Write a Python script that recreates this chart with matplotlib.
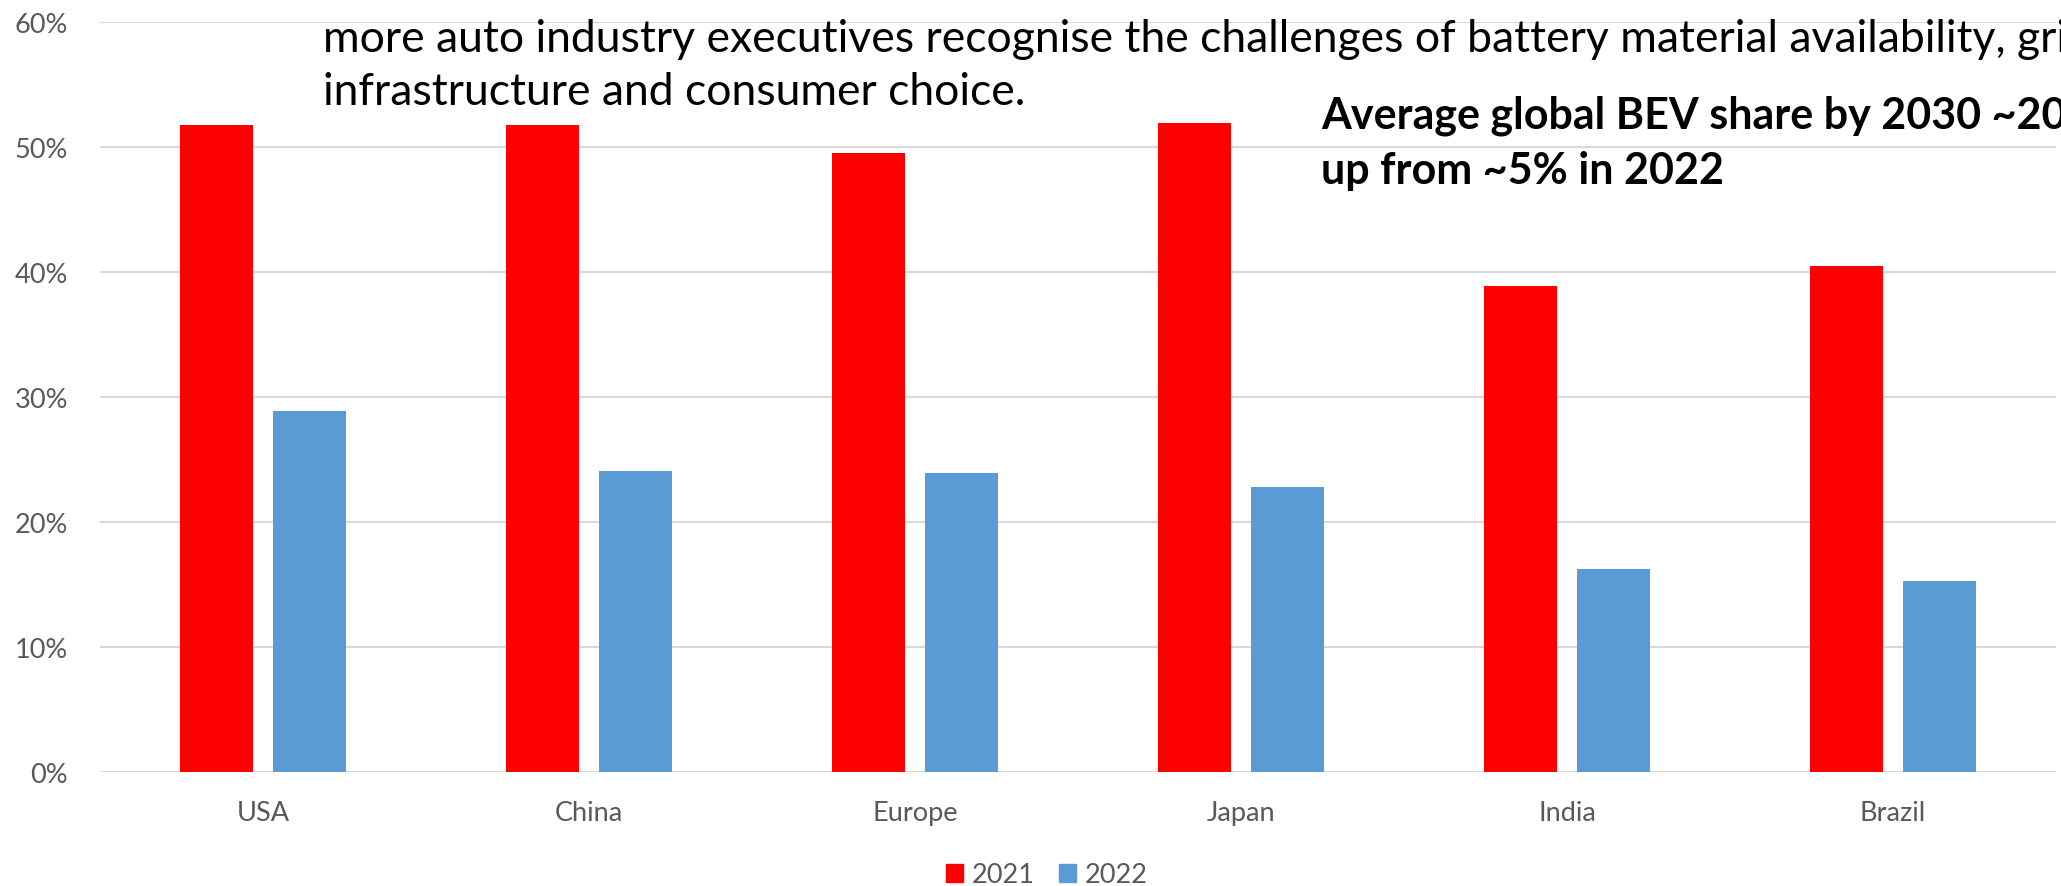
import numpy as np
import matplotlib
matplotlib.use("Agg")
import matplotlib.pyplot as plt
from matplotlib.patches import Patch

# BEV share expectations by market, survey years 2021 and 2022
countries = ["USA", "China", "Europe", "Japan", "India", "Brazil"]
share_2021 = [51.8, 51.8, 49.5, 51.9, 38.9, 40.5]
share_2022 = [28.85, 24.05, 23.95, 22.8, 16.25, 15.3]
y_ticks = [0, 10, 20, 30, 40, 50, 60]

red = "#FF0000"
blue = "#5B9BD5"
grey_text = "#595959"
grid_col = "#D9D9D9"

plt.rcParams["font.family"] = ["Lato", "DejaVu Sans"]

W, H = 2061, 887
fig = plt.figure(figsize=(W / 100, H / 100), dpi=100)
ax = fig.add_axes([100 / W, 1 - 773 / H, 1956 / W, 750 / H])

x = np.arange(len(countries))
bw = 0.224
off = 0.1426
ax.bar(x - off, share_2021, width=bw, color=red, zorder=3, label="2021")
ax.bar(x + off, share_2022, width=bw, color=blue, zorder=3, label="2022")

ax.set_xlim(-0.5, len(countries) - 0.5)
ax.set_ylim(0, 60)
ax.set_yticks(y_ticks)
ax.set_yticklabels([f"{t}%" for t in y_ticks])
ax.set_xticks(x)
ax.set_xticklabels(countries)
ax.tick_params(axis="y", length=0, pad=23, labelsize=19.5, labelcolor=grey_text)
ax.tick_params(axis="x", length=0, pad=20, labelsize=19.5, labelcolor=grey_text)
ax.yaxis.grid(True, color=grid_col, linewidth=1.5, zorder=0)
ax.set_axisbelow(True)
for s in ax.spines.values():
    s.set_visible(False)

# legend under the axis
handles = [Patch(color=red, label="2021"), Patch(color=blue, label="2022")]
fig.legend(handles=handles, loc="center", bbox_to_anchor=(0.5078, 0.0125),
           ncol=2, frameon=False, fontsize=19.5, labelcolor=grey_text,
           handlelength=0.65, handleheight=0.65, handletextpad=0.3,
           columnspacing=0.9, borderpad=0)

# overlaid commentary text (runs off the right edge)
fig.text(323 / W, 1 - 52 / H,
         "more auto industry executives recognise the challenges of battery material availability, gri",
         fontsize=32, color="black", va="baseline", ha="left")
fig.text(323 / W, 1 - 105 / H, "infrastructure and consumer choice.",
         fontsize=32, color="black", va="baseline", ha="left")
fig.text(1321 / W, 1 - 129 / H, "Average global BEV share by 2030 ~20",
         fontsize=31, fontweight="bold", color="black", va="baseline", ha="left")
fig.text(1321 / W, 1 - 184 / H, "up from ~5% in 2022",
         fontsize=31, fontweight="bold", color="black", va="baseline", ha="left")

fig.savefig("out.png", dpi=100)
